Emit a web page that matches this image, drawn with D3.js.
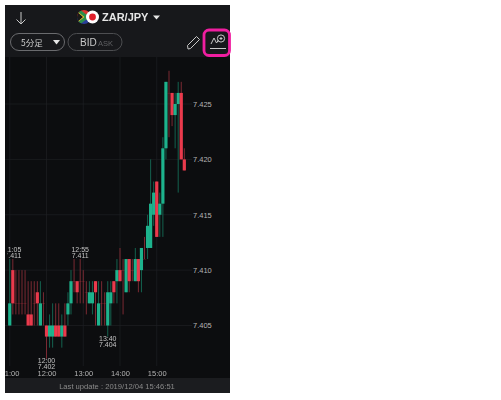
<!DOCTYPE html>
<html>
<head>
<meta charset="utf-8">
<style>
    body { margin: 0; background: #fff; }
    text { font-family: "Liberation Sans", sans-serif; }
</style>
</head>
<body>
    <svg id="chart" width="501" height="400"></svg>

    <script src="https://d3js.org/d3.v7.min.js"></script>
    <script>
        // 5 minute candles, first one is 11:00
        var opens  = [7.405,7.410,7.407,7.407,7.407,7.407,7.406,7.406,7.407,7.408,7.405,7.407,7.405,7.404,7.404,7.405,7.405,7.404,7.405,7.406,7.407,7.409,7.409,7.409,7.409,7.408,7.407,7.407,7.409,7.405,7.407,7.407,7.405,7.407,7.409,7.409,7.410,7.410,7.408,7.411,7.410,7.409,7.411,7.410,7.411,7.412,7.412,7.415,7.418,7.415,7.416,7.421,7.426,7.426,7.424,7.425,7.426,7.420];
        var closes = [7.407,7.407,7.407,7.407,7.407,7.407,7.405,7.405,7.407,7.407,7.407,7.407,7.404,7.405,7.405,7.404,7.404,7.405,7.404,7.407,7.409,7.409,7.408,7.409,7.409,7.408,7.408,7.408,7.408,7.407,7.407,7.407,7.408,7.408,7.408,7.410,7.409,7.410,7.411,7.409,7.410,7.411,7.409,7.412,7.411,7.414,7.416,7.417,7.413,7.416,7.421,7.427,7.426,7.424,7.425,7.426,7.420,7.419];
        var highs  = [7.411,7.411,7.410,7.410,7.410,7.410,7.409,7.409,7.409,7.409,7.409,7.408,7.405,7.406,7.407,7.407,7.407,7.406,7.407,7.408,7.410,7.411,7.409,7.411,7.410,7.409,7.409,7.409,7.409,7.409,7.409,7.408,7.409,7.409,7.409,7.411,7.412,7.411,7.411,7.411,7.411,7.412,7.411,7.412,7.413,7.415,7.420,7.418,7.418,7.417,7.422,7.427,7.428,7.426,7.426,7.427,7.427,7.421];
        var lows   = [7.405,7.406,7.406,7.406,7.406,7.406,7.405,7.405,7.405,7.405,7.405,7.405,7.402,7.403,7.403,7.404,7.404,7.403,7.404,7.405,7.406,7.408,7.407,7.407,7.407,7.406,7.407,7.406,7.405,7.405,7.405,7.405,7.404,7.405,7.407,7.407,7.409,7.406,7.408,7.408,7.409,7.409,7.408,7.408,7.411,7.411,7.412,7.414,7.413,7.413,7.413,7.420,7.422,7.423,7.421,7.417,7.420,7.419];

        var priceTicks = [7.405, 7.410, 7.415, 7.420, 7.425];
        var timeIndexes = [0, 12, 24, 36, 48];
        var timeLabels = ["11:00", "12:00", "13:00", "14:00", "15:00"];

        // high / low callouts
        var highIndexes = [1, 23];
        var highLabels = ["11:05", "12:55"];
        var lowIndexes = [12, 32];
        var lowLabels = ["12:00", "13:40"];

        var svg = d3.select('#chart');

        var x = d3.scaleLinear().domain([0, 48]).range([9.75, 156.75]);
        var y = d3.scaleLinear().domain([7.405, 7.425]).range([325.5, 104]);

        svg.append('clipPath').attr('id', 'phone')
            .append('rect').attr('x', 5).attr('y', 5).attr('width', 225).attr('height', 388);
        svg.append('clipPath').attr('id', 'callouts')
            .append('rect').attr('x', 7.5).attr('y', 57).attr('width', 222).attr('height', 321);

        // the reference is a slightly soft screenshot
        var phone = svg.append('g').attr('clip-path', 'url(#phone)').style('filter', 'blur(0.3px)');

        phone.append('rect').attr('x', 5).attr('y', 5).attr('width', 225).attr('height', 388).attr('fill', '#0c0d0f');
        phone.append('rect').attr('x', 5).attr('y', 5).attr('width', 225).attr('height', 52).attr('fill', '#17181b');
        phone.append('rect').attr('x', 5).attr('y', 378).attr('width', 225).attr('height', 15).attr('fill', '#1b1c1f');

        // grid
        phone.selectAll('.hgrid').data(priceTicks).enter().append('line')
            .attr('x1', 5).attr('x2', 192)
            .attr('y1', function(d) { return y(d) }).attr('y2', function(d) { return y(d) })
            .attr('stroke', '#1e1f22').attr('stroke-width', 0.7);
        phone.selectAll('.vgrid').data(timeIndexes).enter().append('line')
            .attr('y1', 57).attr('y2', 366)
            .attr('x1', function(d) { return x(d) }).attr('x2', function(d) { return x(d) })
            .attr('stroke', '#1e1f22').attr('stroke-width', 0.7);

        // candles
        var candles = phone.selectAll('.candle').data(d3.range(opens.length)).enter().append('g');

        function color(i, up, down) { return closes[i] > opens[i] ? up : down }

        candles.append('line')
            .attr('x1', function(i) { return x(i) }).attr('x2', function(i) { return x(i) })
            .attr('y1', function(i) { return y(highs[i]) }).attr('y2', function(i) { return y(lows[i]) })
            .attr('stroke', function(i) { return color(i, '#14624f', '#7a2a33') })
            .attr('stroke-width', 1);

        candles.append('rect')
            .attr('x', function(i) { return x(i) - 1.6 })
            .attr('width', 3.2)
            .attr('y', function(i) { return y(Math.max(opens[i], closes[i])) })
            .attr('height', function(i) { return Math.max(0.5, Math.abs(y(opens[i]) - y(closes[i]))) })
            .attr('fill', function(i) { return color(i, '#1db38d', '#ea3a4c') })
            .attr('fill-opacity', function(i) { return opens[i] === closes[i] ? 0.35 : 1 });

        // axes
        var yAxis = d3.axisRight(y).tickValues(priceTicks).tickSize(0).tickPadding(0).tickFormat(d3.format('.3f'));
        var yG = phone.append('g').attr('transform', 'translate(193,0)').call(yAxis);

        var xAxis = d3.axisBottom(x).tickValues(timeIndexes).tickSize(0).tickPadding(0)
            .tickFormat(function(d, i) { return timeLabels[i] });
        var xG = phone.append('g').attr('transform', 'translate(0,370.6)').call(xAxis);

        [yG, xG].forEach(function(g) {
            g.select('.domain').remove();
            g.selectAll('text').attr('fill', '#b4b4b4').style('font-size', '7.5px')
                .style('font-family', '"Liberation Sans", sans-serif');
        });

        // callouts
        var calloutLayer = phone.append('g').attr('clip-path', 'url(#callouts)')
            .attr('fill', '#c4c4c4').attr('font-size', 7).attr('text-anchor', 'middle');
        var price = d3.format('.3f');

        highIndexes.forEach(function(idx, i) {
            var top = y(highs[idx]);
            calloutLayer.append('text').attr('x', x(idx)).attr('y', top - 7).text(highLabels[i]);
            calloutLayer.append('text').attr('x', x(idx)).attr('y', top - 0.8).text(price(highs[idx]));
        });
        lowIndexes.forEach(function(idx, i) {
            var bottom = y(lows[idx]);
            calloutLayer.append('text').attr('x', x(idx)).attr('y', bottom + 4.2).text(lowLabels[i]);
            calloutLayer.append('text').attr('x', x(idx)).attr('y', bottom + 10.4).text(price(lows[idx]));
        });

        // footer
        phone.append('text').attr('x', 117).attr('y', 389).attr('text-anchor', 'middle')
            .attr('font-size', 7.6).attr('fill', '#8a8a8a').text('Last update : 2019/12/04 15:46:51');

        // header: arrow
        var icons = phone.append('g').attr('fill', 'none').attr('stroke', '#c9c9c9').attr('stroke-width', 1);
        icons.append('path').attr('d', 'M21 12V24M16.5 19.5L21 24L25.5 19.5');

        // header: flags
        svg.append('clipPath').attr('id', 'za').append('circle').attr('cx', 84).attr('cy', 17).attr('r', 7);
        var za = phone.append('g').attr('clip-path', 'url(#za)');
        za.append('rect').attr('x', 76).attr('y', 10).attr('width', 16).attr('height', 7).attr('fill', '#d8362f');
        za.append('rect').attr('x', 76).attr('y', 17).attr('width', 16).attr('height', 7).attr('fill', '#2a3f9a');
        za.append('path').attr('d', 'M76 10L84 17L76 24').attr('fill', '#1a1a1a').attr('stroke', '#e8c02c').attr('stroke-width', 1.5);
        za.append('path').attr('d', 'M78 10L85 15.5H92M92 18.5H85L78 24').attr('fill', 'none').attr('stroke', '#2c8f4b').attr('stroke-width', 3);
        phone.append('circle').attr('cx', 92.5).attr('cy', 17).attr('r', 6.5).attr('fill', '#fff');
        phone.append('circle').attr('cx', 92.5).attr('cy', 17).attr('r', 3.4).attr('fill', '#e0202c');

        phone.append('text').attr('x', 102).attr('y', 21).attr('font-size', 11).attr('font-weight', 'bold')
            .attr('fill', '#e6e6e6').text('ZAR/JPY');
        phone.append('path').attr('d', 'M153 15.5H160L156.5 19.5Z').attr('fill', '#e6e6e6');

        // header: pills
        phone.append('rect').attr('x', 10.5).attr('y', 33.5).attr('width', 54).attr('height', 17).attr('rx', 8.5)
            .attr('fill', 'none').attr('stroke', '#6a6b6e');
        phone.append('text').attr('x', 21).attr('y', 46).attr('font-size', 8.5).attr('fill', '#cfcfcf')
            .style('font-family', '"Noto Sans CJK JP"').text('5分足');
        phone.append('path').attr('d', 'M53 40H60L56.5 44.5Z').attr('fill', '#e6e6e6');

        phone.append('rect').attr('x', 68).attr('y', 33.5).attr('width', 54).attr('height', 17).attr('rx', 8.5)
            .attr('fill', 'none').attr('stroke', '#4d4e51');
        phone.append('text').attr('x', 80).attr('y', 46).attr('font-size', 10).attr('fill', '#c9c9c9').text('BID');
        phone.append('text').attr('x', 98).attr('y', 45.5).attr('font-size', 7.5).attr('fill', '#5f6063').text('ASK');

        // header: pencil and chart tool
        icons.append('path').attr('d', 'M188 49L187.5 45.5L196.5 36.5L199.5 39.5L190.5 48.5Z');
        icons.append('path').attr('d', 'M211 44L214 38L216.5 43L218.5 40');
        icons.append('circle').attr('cx', 221).attr('cy', 38.5).attr('r', 3.6);
        icons.append('path').attr('d', 'M219.5 38.5H222.5M221 37V40M210 48.5H226');

        // pink highlight
        svg.append('rect').attr('x', 204).attr('y', 30).attr('width', 25.5).attr('height', 25.5).attr('rx', 5)
            .attr('fill', 'none').attr('stroke', '#f01ea0').attr('stroke-width', 2.8);
    </script>
</body>
</html>
